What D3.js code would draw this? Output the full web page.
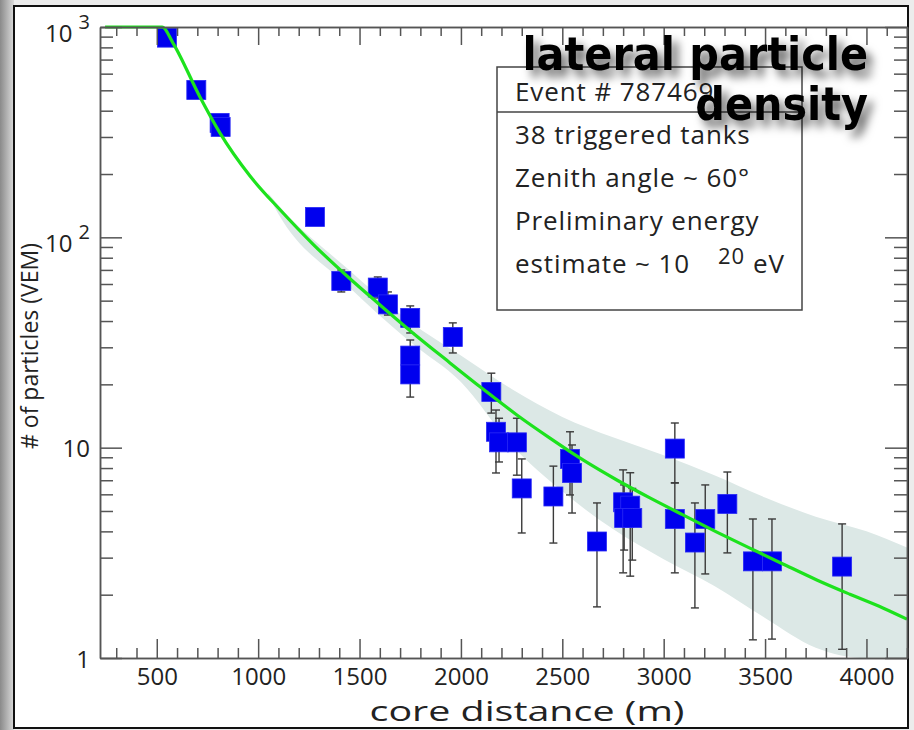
<!DOCTYPE html>
<html>
<head>
<meta charset="utf-8">
<script src="https://cdn.jsdelivr.net/npm/d3@7"></script>
<style>
  body { margin: 0; background: #fff; }
  svg { display: block; }
  text { font-family: "Open Sans", sans-serif; fill: #222; }
</style>
</head>
<body>
<svg width="914" height="730"></svg>
<script>
// tank signals: core distance (m), particles (VEM), error bar ends
const distances = [550, 695, 810, 815, 1280, 1410, 1590, 1640, 1750, 1750, 1750, 1960,
  2150, 2173, 2188, 2276, 2300, 2456, 2538, 2548, 2671, 2800, 2835, 2805, 2845,
  3055, 3055, 3154, 3205, 3314, 3440, 3534, 3880];
const signals = [890, 502, 350, 335, 125, 62, 57.7, 48, 41.4, 27.4, 22.3, 33.6,
  18.4, 11.9, 10.6, 10.6, 6.4, 5.86, 8.84, 7.58, 3.58, 5.5, 5.3, 4.63, 4.63,
  9.9, 4.58, 3.54, 4.58, 5.4, 2.88, 2.88, 2.72];
const errLow = [null, null, null, null, null, 55, 51.5, 42.7, 35.1, 24.2, 17.4, 28.2,
  14.6, 7.58, 8.55, 7.4, 3.93, 3.52, 5.96, 4.89, 1.75, 2.54, 2.45, 3.26, 2.92,
  6.8, 2.54, 1.73, 2.51, 3.16, 1.22, 1.23, 1.10];
const errHigh = [null, null, null, null, null, 69.9, 64.8, 55, 47.2, 32.5, 26, 39.2,
  22.6, 15.1, 13.8, 13.8, 8.84, 8.17, 11.9, 10.3, 5.46, 7.84, 7.6, 6.65, 6.4,
  13.1, 6.8, 5.46, 6.65, 7.66, 4.58, 4.58, 4.34];

// fitted lateral distribution function
const fitDistance = [245, 400, 526, 580, 713, 812, 960, 1108, 1270, 1438, 1601, 1763,
  1946, 2109, 2276, 2439, 2602, 2769, 2932, 3095, 3262, 3425, 3588, 3755, 3918,
  4081, 4200];
const fitSignal = [3200, 1700, 1000, 839, 465, 313, 195.7, 135.2, 92.9, 65.5, 47.7, 35.1,
  25.3, 19.0, 14.3, 11.1, 8.74, 7.02, 5.77, 4.79, 3.97, 3.33, 2.80, 2.35, 2.01,
  1.73, 1.53];

// uncertainty band of the fit
const bandDistance = [1050, 1100, 1440, 1750, 2000, 2250, 2500, 2750, 3000, 3250, 3500, 3750, 4000, 4200];
const bandLow = [158, 129, 59, 31.8, 20.5, 10.3, 6.2, 4.1, 2.95, 2.2, 1.55, 1.12, 0.86, 0.68];
const bandHigh = [162, 142, 71, 39.6, 27.4, 19.0, 14, 11.2, 9.2, 7.4, 5.8, 4.7, 4.0, 3.35];

const xMajor = [500, 1000, 1500, 2000, 2500, 3000, 3500, 4000];
const xMinor = d3.range(300, 4201, 100).filter(d => d % 500 !== 0);
const yMajor = [1, 10, 100, 1000];
const yMinor = [2, 3, 4, 5, 6, 7, 8, 9, 20, 30, 40, 50, 60, 70, 80, 90, 200, 300, 400, 500, 600, 700, 800, 900];

const legendLines = ['38 triggered tanks', 'Zenith angle ~ 60°', 'Preliminary energy'];

const svg = d3.select('svg'),
    width = +svg.attr('width'),
    height = +svg.attr('height');

const plotLeft = 100, plotRight = 907, plotTop = 27, plotBottom = 658;

const x = d3.scaleLinear().domain([220, 4200]).range([plotLeft, plotRight]);
const y = d3.scaleLog().domain([1, 1000]).range([plotBottom, plotTop]).clamp(true);

// slide frame
const defs = svg.append('defs');
const grad = defs.append('linearGradient').attr('id', 'edge');
grad.append('stop').attr('offset', '0%').attr('stop-color', '#8a8a8a');
grad.append('stop').attr('offset', '100%').attr('stop-color', '#dadada');
const shadow = defs.append('filter').attr('id', 'shadow')
    .attr('x', '-20%').attr('y', '-40%').attr('width', '140%').attr('height', '180%');
shadow.append('feDropShadow').attr('dx', 6).attr('dy', 7)
    .attr('stdDeviation', 5).attr('flood-color', '#000').attr('flood-opacity', 0.6);
defs.append('clipPath').attr('id', 'plot')
  .append('rect').attr('x', plotLeft).attr('y', plotTop)
    .attr('width', plotRight - plotLeft).attr('height', plotBottom - plotTop);

svg.append('rect').attr('width', width).attr('height', height).attr('fill', '#ececec');
svg.append('rect').attr('width', 14).attr('height', height).attr('fill', 'url(#edge)');
svg.append('rect').attr('x', 14).attr('y', 6).attr('width', 894).attr('height', 722)
    .attr('fill', '#fff').attr('stroke', '#111').attr('stroke-width', 2);

// band, error bars, tanks, fit
const plot = svg.append('g').attr('clip-path', 'url(#plot)');

const band = d3.area()
    .x((d, i) => x(bandDistance[i]))
    .y0((d, i) => y(bandLow[i]))
    .y1((d, i) => y(bandHigh[i]))
    .curve(d3.curveMonotoneX);
plot.append('path')
    .datum(bandDistance)
    .attr('d', band)
    .attr('fill', '#dce8e6');

const tanks = d3.range(distances.length);
const withErr = tanks.filter(i => errLow[i] !== null);

const err = plot.append('g').attr('stroke', '#3a3a3a').attr('stroke-width', 1.4);
err.selectAll('line.bar')
  .data(withErr)
  .enter().append('line')
    .attr('class', 'bar')
    .attr('x1', i => x(distances[i])).attr('x2', i => x(distances[i]))
    .attr('y1', i => y(errLow[i])).attr('y2', i => y(errHigh[i]));
err.selectAll('line.capLo')
  .data(withErr)
  .enter().append('line')
    .attr('x1', i => x(distances[i]) - 4).attr('x2', i => x(distances[i]) + 4)
    .attr('y1', i => y(errLow[i])).attr('y2', i => y(errLow[i]));
err.selectAll('line.capHi')
  .data(withErr)
  .enter().append('line')
    .attr('x1', i => x(distances[i]) - 4).attr('x2', i => x(distances[i]) + 4)
    .attr('y1', i => y(errHigh[i])).attr('y2', i => y(errHigh[i]));

const sq = 19;
plot.append('g')
  .selectAll('rect')
  .data(tanks)
  .enter().append('rect')
    .attr('x', i => x(distances[i]) - sq / 2)
    .attr('y', i => y(signals[i]) - sq / 2)
    .attr('width', sq).attr('height', sq)
    .attr('fill', '#0000ee')
    .attr('stroke', '#2a2af5').attr('stroke-width', 0.8);

const fit = d3.line()
    .x((d, i) => x(fitDistance[i]))
    .y((d, i) => y(fitSignal[i]))
    .curve(d3.curveMonotoneX);
svg.append('path')
    .datum(fitDistance)
    .attr('d', fit)
    .attr('fill', 'none')
    .attr('stroke', '#1de21d')
    .attr('stroke-width', 3.2);

// axes on all four sides, major and minor ticks
function styleAxis(g) {
  g.selectAll('path, line').attr('stroke', '#555').attr('stroke-width', 1.5);
  g.selectAll('text').attr('fill', '#222').style('font-family', '"Open Sans", sans-serif');
}

svg.append('g').attr('transform', `translate(0,${plotBottom})`)
    .call(d3.axisBottom(x).tickValues(xMinor).tickSize(-10).tickSizeOuter(0).tickFormat(''))
    .call(styleAxis);
svg.append('g').attr('transform', `translate(0,${plotBottom})`)
    .call(d3.axisBottom(x).tickValues(xMajor).tickSize(-19).tickSizeOuter(0).tickPadding(10).tickFormat(d3.format('d')))
    .call(styleAxis)
    .call(g => g.selectAll('text').attr('font-size', 24));
svg.append('g').attr('transform', `translate(0,${plotTop})`)
    .call(d3.axisTop(x).tickValues(xMinor).tickSize(-9).tickSizeOuter(0).tickFormat(''))
    .call(styleAxis);
svg.append('g').attr('transform', `translate(0,${plotTop})`)
    .call(d3.axisTop(x).tickValues(xMajor).tickSize(-18).tickSizeOuter(0).tickFormat(''))
    .call(styleAxis);

svg.append('g').attr('transform', `translate(${plotLeft},0)`)
    .call(d3.axisLeft(y).tickValues(yMinor).tickSize(-13).tickSizeOuter(0).tickFormat(''))
    .call(styleAxis);
svg.append('g').attr('transform', `translate(${plotRight},0)`)
    .call(d3.axisRight(y).tickValues(yMinor).tickSize(-13).tickSizeOuter(0).tickFormat(''))
    .call(styleAxis);
svg.append('g').attr('transform', `translate(${plotRight},0)`)
    .call(d3.axisRight(y).tickValues(yMajor).tickSize(-22).tickSizeOuter(0).tickFormat(''))
    .call(styleAxis);

const yAxis = svg.append('g').attr('transform', `translate(${plotLeft},0)`)
    .call(d3.axisLeft(y).tickValues(yMajor).tickSize(-22).tickSizeOuter(0).tickPadding(10).tickFormat(d3.format('d')))
    .call(styleAxis);
yAxis.selectAll('text')
    .attr('font-size', 24)
    .attr('dy', null)
    .attr('y', 9)
  .filter(d => d >= 100)
    .text('')
    .attr('y', 14)
    .each(function(d) {
      const t = d3.select(this);
      t.append('tspan').text('10');
      t.append('tspan').attr('dx', 6).attr('dy', -13).attr('font-size', 20)
          .text(String(Math.round(Math.log10(d))));
    });

// axis titles
svg.append('text')
    .attr('x', 527).attr('y', 721)
    .attr('text-anchor', 'middle')
    .attr('font-size', 28)
    .attr('textLength', 315)
    .attr('lengthAdjust', 'spacingAndGlyphs')
    .text('core distance (m)');

svg.append('text')
    .attr('transform', 'translate(38,346) rotate(-90)')
    .attr('text-anchor', 'middle')
    .attr('font-size', 23)
    .text('# of particles (VEM)');

// event box
const box = svg.append('g').style('letter-spacing', '0.9px');
box.append('rect')
    .attr('x', 497).attr('y', 67).attr('width', 305).attr('height', 243)
    .attr('fill', '#fff').attr('stroke', '#444').attr('stroke-width', 1.5);
box.append('line')
    .attr('x1', 497).attr('x2', 802).attr('y1', 112).attr('y2', 112)
    .attr('stroke', '#444').attr('stroke-width', 1.5);
box.append('text').attr('x', 515).attr('y', 101).attr('font-size', 26).text('Event # 787469');
box.selectAll('text.line')
  .data(legendLines)
  .enter().append('text')
    .attr('class', 'line')
    .attr('x', 515)
    .attr('y', (d, i) => 144 + i * 43)
    .attr('font-size', 26)
    .text(d => d);
box.append('text').attr('x', 515).attr('y', 273).attr('font-size', 26).text('estimate ~ 10');
box.append('text').attr('x', 718).attr('y', 264).attr('font-size', 22).text('20');
box.append('text').attr('x', 753).attr('y', 273).attr('font-size', 26).text('eV');

// slide title
const title = svg.append('g').attr('filter', 'url(#shadow)');
title.selectAll('text')
  .data(['lateral particle', 'density'])
  .enter().append('text')
    .attr('x', 868)
    .attr('y', (d, i) => 70 + i * 50)
    .attr('text-anchor', 'end')
    .attr('font-size', 46)
    .attr('font-weight', 'bold')
    .style('font-family', '"DejaVu Sans Condensed", "DejaVu Sans", sans-serif')
    .style('fill', '#000')
    .text(d => d);
</script>
</body>
</html>
